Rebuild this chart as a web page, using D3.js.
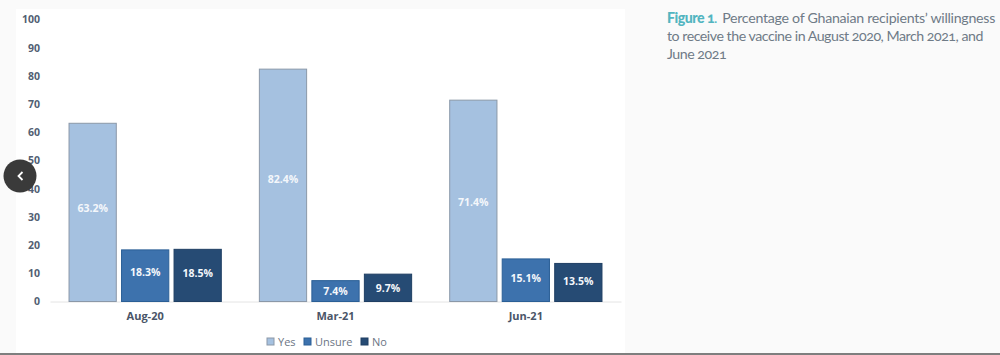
<!DOCTYPE html>
<html lang="en">
<style>
  html, body { margin: 0; padding: 0; background: #fafafa; overflow: hidden; }
  text { font-family: Lato, "Open Sans", sans-serif; }
</style>
<body>
<script src="https://d3js.org/d3.v7.min.js"></script>
<script>

var months = ["Aug-20", "Mar-21", "Jun-21"];
var answers = ["Yes", "Unsure", "No"];
var yes_values = [63.2, 82.4, 71.4];
var unsure_values = [18.3, 7.4, 15.1];
var no_values = [18.5, 9.7, 13.5];
var y_ticks = [0, 10, 20, 30, 40, 50, 60, 70, 80, 90, 100];
var bar_colors = ["#a5c1e0", "#3d72ad", "#264b74"];
var bar_strokes = ["#8b98a8", "#2b5f96", "#1f3f63"];
var caption_lines = ["to receive the vaccine in August 2020, March 2021, and", "June 2021"];

var svg = d3.select("body").append("svg")
    .attr("width", 1000)
    .attr("height", 355)
    .style("display", "block");

// white panel behind the chart
svg.append("rect").attr("x", 16).attr("y", 9).attr("width", 609).attr("height", 344).attr("fill", "#ffffff");

var x0 = d3.scaleBand().domain(months).range([50, 621]).paddingInner(0.2).paddingOuter(0.1);
var x1 = d3.scaleBand().domain(answers).range([0, x0.bandwidth()]).paddingInner(0.1);
var y = d3.scaleLinear().domain([0, 100]).range([301.5, 19.5]);

// Axes
var yAxis = svg.append("g")
    .attr("transform", "translate(50,0)")
    .call(d3.axisLeft(y).tickValues(y_ticks).tickSize(0).tickPadding(10));
yAxis.select(".domain").remove();
yAxis.selectAll("text")
    .attr("font-size", 10.5).attr("font-weight", 700).attr("fill", "#525f73")
    .style("font-family", "'Open Sans', sans-serif");

var xAxis = svg.append("g")
    .attr("transform", "translate(0,301.5)")
    .call(d3.axisBottom(x0).tickSize(0).tickPadding(11));
xAxis.select(".domain").attr("stroke", "#e4e4e4");
xAxis.selectAll("text")
    .attr("font-size", 11).attr("font-weight", 700).attr("fill", "#4a5568")
    .style("font-family", "'Open Sans', sans-serif");

// Bars
// labels in the original were not quite centred in the bars, so nudge them a bit
var all_values = [yes_values, unsure_values, no_values];
var label_nudge = [[-4, -6, 2], [-3, 0, -2], [-2, 1, -1]];
answers.forEach(function(answer, a){
  var g = svg.append("g");
  g.selectAll("rect")
    .data(all_values[a])
    .enter()
    .append("rect")
    .attr("x", function(d, i){ return x0(months[i]) + x1(answer); })
    .attr("y", function(d){ return y(d); })
    .attr("width", x1.bandwidth())
    .attr("height", function(d){ return y(0) - y(d); })
    .attr("fill", bar_colors[a])
    .attr("stroke", bar_strokes[a]);
  g.selectAll("text")
    .data(all_values[a])
    .enter()
    .append("text")
    .attr("x", function(d, i){ return x0(months[i]) + x1(answer) + x1.bandwidth() / 2; })
    .attr("y", function(d, i){ return (y(d) + y(0)) / 2 + 3.5 + label_nudge[a][i]; })
    .attr("text-anchor", "middle")
    .attr("font-size", 10.5)
    .attr("font-weight", 700)
    .attr("fill", "#f4f7fb")
    .style("font-family", "'Open Sans', sans-serif")
    .text(function(d){ return d.toFixed(1) + "%"; });
});

// Legend
var legend_x = [267, 304, 361];
var legend = svg.append("g").selectAll("g")
    .data(answers)
    .enter()
    .append("g")
    .attr("transform", function(d, i){ return "translate(" + legend_x[i] + ",338)"; });
legend.append("rect")
    .attr("width", 7).attr("height", 7)
    .attr("fill", function(d, i){ return bar_colors[i]; })
    .attr("stroke", function(d, i){ return bar_strokes[i]; });
legend.append("text")
    .attr("x", 11).attr("y", 7.5)
    .attr("font-size", 11).attr("fill", "#6b7584")
    .style("font-family", "'Open Sans', sans-serif")
    .text(function(d){ return d; });

// Caption
var caption = svg.append("g").attr("font-size", 14.2).attr("fill", "#6f7b87")
    .style("font-variant-numeric", "oldstyle-nums");
var first = caption.append("text").attr("x", 667).attr("y", 23).attr("letter-spacing", -0.28);
first.append("tspan").attr("font-weight", 900).attr("fill", "#52b5c0").attr("letter-spacing", -0.5).text("Figure 1");
first.append("tspan").attr("fill", "#52b5c0").text(".");
first.append("tspan").attr("dx", 5).text("Percentage of Ghanaian recipients\u2019 willingness");
caption.selectAll("text.line")
    .data(caption_lines)
    .enter()
    .append("text")
    .attr("class", "line")
    .attr("x", 667)
    .attr("y", function(d, i){ return 41 + i * 18; })
    .attr("letter-spacing", -0.48)
    .text(function(d){ return d; });

// page bottom edge
svg.append("line").attr("x1", 0).attr("x2", 1000).attr("y1", 354).attr("y2", 354).attr("stroke", "#555555").attr("stroke-width", 1.5);

// carousel back button
svg.append("circle").attr("cx", 20).attr("cy", 176).attr("r", 16.5).attr("fill", "#3a3a3a");
svg.append("path").attr("d", "M22.5,172 L18.5,176 L22.5,180").attr("fill", "none").attr("stroke", "#ffffff").attr("stroke-width", 1.8);

</script>
</body>
</html>
